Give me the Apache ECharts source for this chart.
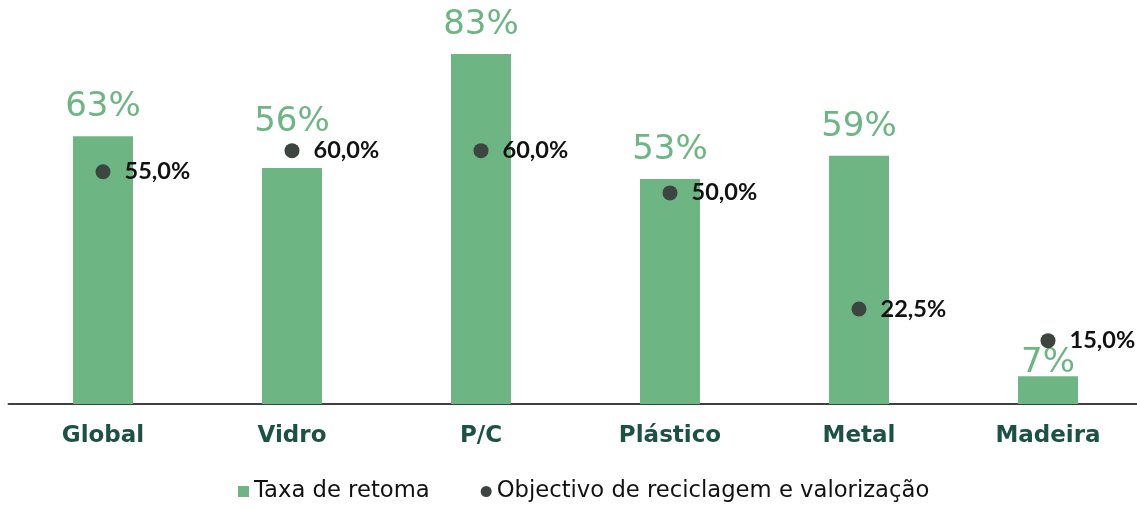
<!DOCTYPE html>
<html>
<head>
<meta charset="utf-8">
<script src="https://cdn.jsdelivr.net/npm/echarts@6/dist/echarts.min.js"></script>
<style>
html,body{margin:0;padding:0;background:#fff;}
#c{width:1137px;height:508px;}
</style>
</head>
<body>
<div id="c"></div>
<script>
const categories = ['Global', 'Vidro', 'P/C', 'Plástico', 'Metal', 'Madeira'];
const taxaRetoma = [63.4, 55.9, 82.9, 53.3, 58.8, 6.6];
const objectivo = [55.0, 60.0, 60.0, 50.0, 22.5, 15.0];
const seriesNames = ['Taxa de retoma', 'Objectivo de reciclagem e valorização'];
const labelDistances = [12, 29, 12, 12, 12, -4];

const FONT = 'Lato, "Open Sans", sans-serif';
const WIDE = '"DejaVu Sans", sans-serif';
const chart = echarts.init(document.getElementById('c'));
chart.setOption({
  animation: false,
  grid: { left: 8.5, width: 1134, top: 24, bottom: 104, outerBoundsMode: 'none', containLabel: false },
  xAxis: {
    type: 'category',
    data: categories,
    axisLine: { lineStyle: { color: '#404040', width: 2 } },
    axisTick: { show: false },
    axisLabel: { color: '#1b5244', fontSize: 23, fontWeight: 'bold', fontFamily: WIDE, margin: 21 }
  },
  yAxis: { type: 'value', min: 0, max: 90, show: false, splitLine: { show: false } },
  legend: {
    left: 233, bottom: 0,
    itemWidth: 11, itemHeight: 11, itemGap: 51,
    textStyle: { fontSize: 22.7, color: '#111', fontFamily: WIDE },
    data: [
      { name: seriesNames[0], icon: 'rect' },
      { name: seriesNames[1], icon: 'circle' }
    ]
  },
  series: [
    {
      name: seriesNames[0],
      type: 'bar',
      barWidth: 60,
      itemStyle: { color: '#6db583' },
      data: taxaRetoma.map((v, i) => ({ value: v, label: { distance: labelDistances[i] } })),
      label: {
        show: true, position: 'top',
        color: '#6db583', fontSize: 34, fontWeight: 'normal', fontFamily: WIDE,
        formatter: p => Math.round(p.value) + '%'
      },
      z: 1
    },
    {
      name: seriesNames[1],
      type: 'scatter',
      symbol: 'circle',
      symbolSize: 15,
      itemStyle: { color: '#3d4541', opacity: 1 },
      data: objectivo,
      label: {
        show: true, position: 'right', distance: 14,
        color: '#111', fontSize: 23.5, fontWeight: 'bold', fontFamily: FONT,
        formatter: p => p.value.toFixed(1).replace('.', ',') + '%'
      },
      z: 3
    }
  ]
});
</script>
</body>
</html>
